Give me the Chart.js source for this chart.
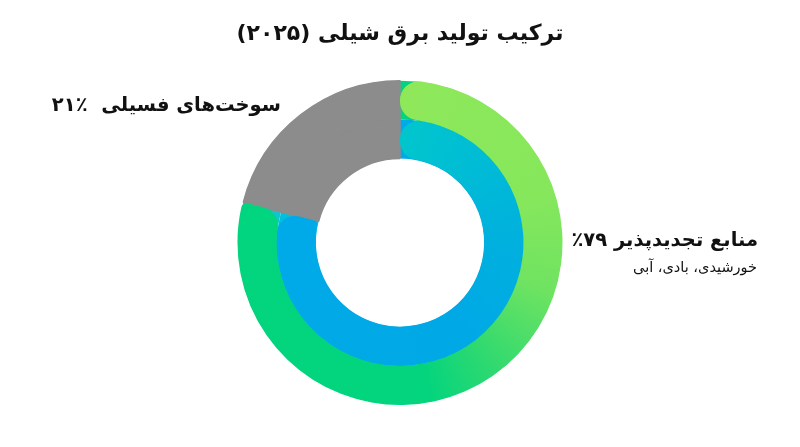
<!DOCTYPE html>
<html lang="fa">
<head>
<meta charset="utf-8">
<script src="https://cdn.jsdelivr.net/npm/chart.js@4"></script>
<style>
  html, body { margin:0; padding:0; background:#fff; }
  #wrap { position:relative; width:800px; height:447px; overflow:hidden; font-family:"DejaVu Sans", sans-serif; color:#111; }
  canvas { position:absolute; left:0; top:0; }
  .lbl { position:absolute; direction:rtl; white-space:nowrap; }
  #title { left:0; width:800px; top:20px; text-align:center; font-weight:bold; font-size:22px; }
  #lblLeft { right:519px; top:93px; font-weight:bold; font-size:19.5px; }
  #lblRight { right:42px; top:228px; font-weight:bold; font-size:19.5px; }
  #lblSub { right:43px; top:259px; font-size:14.5px; }
</style>
</head>
<body>
<div id="wrap">
  <div style="position:absolute;left:0;top:0;width:800px;height:447px;"><canvas id="back"></canvas></div>
  <div style="position:absolute;left:0;top:0;width:800px;height:447px;"><canvas id="front"></canvas></div>
  <div id="title" class="lbl"></div>
  <div id="lblLeft" class="lbl"></div>
  <div id="lblRight" class="lbl"></div>
  <div id="lblSub" class="lbl"></div>
</div>
<script>
const titleText = 'ترکیب تولید برق شیلی (۲۰۲۵)';
const categories = ['منابع تجدیدپذیر', 'سوخت‌های فسیلی'];
const shares = [79, 21];
const renewableSources = 'خورشیدی، بادی، آبی';

const fa = n => String(n).replace(/\d/g, d => '۰۱۲۳۴۵۶۷۸۹'[d]);
document.getElementById('title').textContent = titleText;
document.getElementById('lblRight').textContent = categories[0] + ' ' + fa(shares[0]) + '٪';
document.getElementById('lblLeft').textContent = categories[1] + '\u00a0\u00a0٪' + fa(shares[1]);
document.getElementById('lblSub').textContent = renewableSources;

const GRAY = '#8c8c8c';

function conic(ctx, stops) {
  const chart = ctx.chart;
  const a = chart.chartArea;
  if (!a) return stops[0][1];
  const cx = (a.left + a.right) / 2, cy = (a.top + a.bottom) / 2;
  const g = chart.ctx.createConicGradient(-Math.PI / 2, cx, cy);
  stops.forEach(s => g.addColorStop(s[0], s[1]));
  return g;
}

const frontOuter = [[0,'#8fe85a'],[0.2,'#86e75c'],[0.3,'#6fe361'],[0.4,'#2ed970'],[0.47,'#04d47e'],[1,'#00d47f']];
const frontInner = [[0,'#00c6cc'],[0.12,'#00bcd6'],[0.25,'#00b0de'],[0.4,'#00a9e6'],[1,'#00a9e8']];
const backOuter = [[0,'#00d47f'],[0.72,'#00d47f'],[0.79,'#10c4d6'],[1,'#10c4d6']];
const backInner = [[0,'#00a9e8'],[0.72,'#00a9e8'],[0.79,'#00c2dc'],[1,'#00c2dc']];

const baseOptions = {
  responsive: true,
  maintainAspectRatio: false,
  animation: false,
  events: [],
  cutout: '52%',
  layout: { padding: { top: 80, bottom: 42, left: 0, right: 0 } },
  plugins: { legend: { display: false }, tooltip: { enabled: false }, title: { display: false } }
};

new Chart(document.getElementById('back'), {
  type: 'doughnut',
  data: {
    labels: categories,
    datasets: [
      { data: shares, hoverOffset: 0,
        borderWidth: ctx => ctx.dataIndex === 0 ? 0 : 1.5,
        borderColor: GRAY,
        backgroundColor: ctx => ctx.dataIndex === 0 ? conic(ctx, backOuter) : GRAY },
      { data: shares, hoverOffset: 0,
        borderWidth: ctx => ctx.dataIndex === 0 ? 0 : 1.5,
        borderColor: GRAY,
        backgroundColor: ctx => ctx.dataIndex === 0 ? conic(ctx, backInner) : GRAY }
    ]
  },
  options: baseOptions
});

new Chart(document.getElementById('front'), {
  type: 'doughnut',
  data: {
    labels: categories,
    datasets: [
      { data: shares, borderWidth: 0, hoverOffset: 0,
        borderRadius: ctx => ctx.dataIndex === 0 ? { outerStart: 19, innerStart: 19, outerEnd: 5, innerEnd: 18 } : 0,
        backgroundColor: ctx => ctx.dataIndex === 0 ? conic(ctx, frontOuter) : 'rgba(0,0,0,0)' },
      { data: shares, borderWidth: 0, hoverOffset: 0,
        borderRadius: ctx => ctx.dataIndex === 0 ? { outerStart: 19, innerStart: 19, outerEnd: 18, innerEnd: 4 } : 0,
        backgroundColor: ctx => ctx.dataIndex === 0 ? conic(ctx, frontInner) : 'rgba(0,0,0,0)' }
    ]
  },
  options: baseOptions
});
</script>
</body>
</html>
